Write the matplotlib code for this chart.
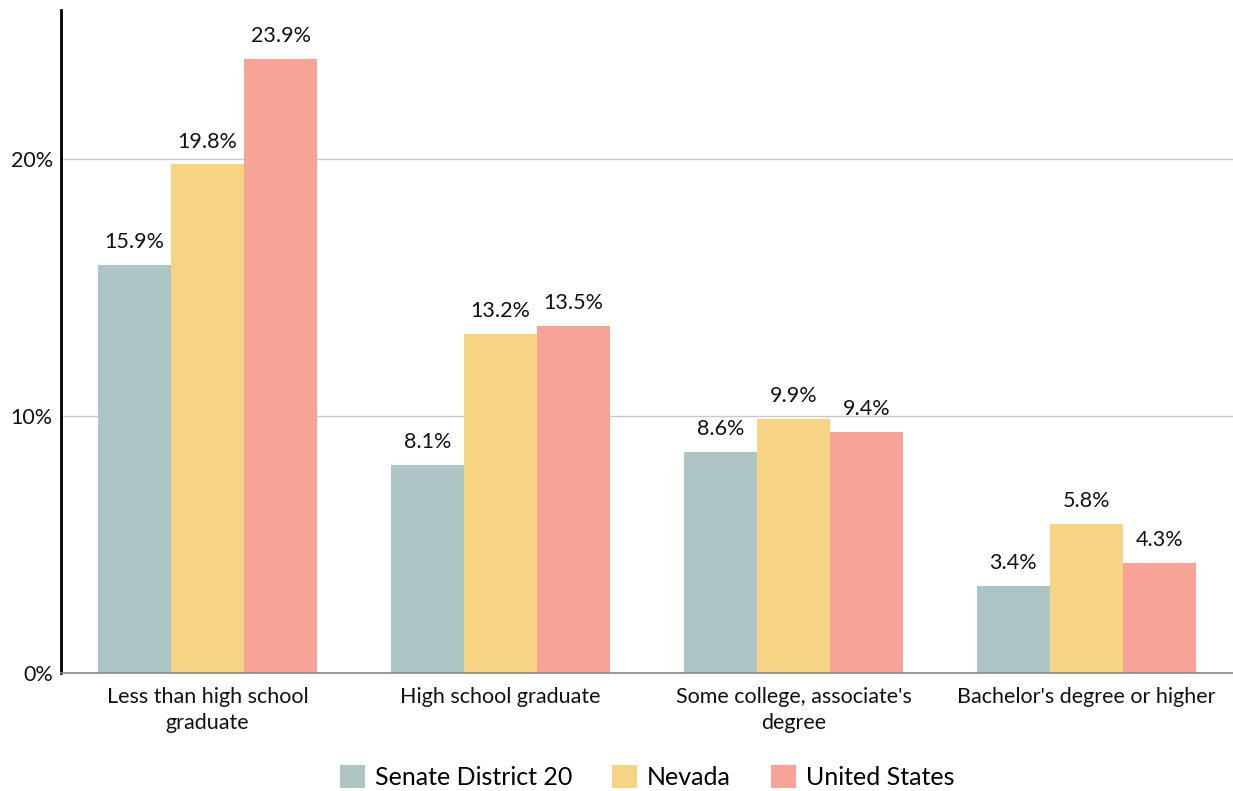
import numpy as np
import matplotlib.pyplot as plt
from matplotlib.ticker import FuncFormatter

categories = ["Less than high school\ngraduate", "High school graduate",
              "Some college, associate's\ndegree", "Bachelor's degree or higher"]
series_names = ["Senate District 20", "Nevada", "United States"]
district_20 = [15.9, 8.1, 8.6, 3.4]
nevada = [19.8, 13.2, 9.9, 5.8]
united_states = [23.9, 13.5, 9.4, 4.3]
colors = ["#AEC5C6", "#F7D384", "#F7A397"]

plt.rcParams["font.family"] = ["Lato", "DejaVu Sans"]

fig = plt.figure(figsize=(12.33, 7.91), dpi=100)
ax = fig.add_axes([0.0495, 0.149, 0.9505, 0.838])

x = np.arange(len(categories))
w = 0.25
for k, (name, vals) in enumerate(zip(series_names, [district_20, nevada, united_states])):
    pos = x + (k - 1) * w
    ax.bar(pos, vals, width=w, color=colors[k], label=name, zorder=2)
    for px, v in zip(pos, vals):
        ax.text(px, v + 0.5, f"{v:.1f}%", ha="center", va="bottom", fontsize=15.5, color="#111111")

ax.set_xlim(-0.5, 3.5)
ax.set_ylim(0, 25.8)
ax.set_yticks([0, 10, 20])
ax.yaxis.set_major_formatter(FuncFormatter(lambda v, _: f"{v:.0f}%"))
ax.set_xticks(x)
ax.set_xticklabels(categories, linespacing=1.4)
ax.tick_params(axis="both", length=0, labelsize=15.5, colors="#111111")
ax.tick_params(axis="x", pad=10)
ax.tick_params(axis="y", pad=6)
ax.grid(axis="y", color="#C8C8C8", linewidth=1, zorder=0)
for s in ["top", "right"]:
    ax.spines[s].set_visible(False)
ax.spines["left"].set_color("black")
ax.spines["left"].set_linewidth(2)
ax.spines["bottom"].set_color("#888888")
ax.spines["bottom"].set_linewidth(1.2)

ax.legend(loc="center", bbox_to_anchor=(0.5, -0.157), ncol=3, frameon=False,
          fontsize=18, handlelength=1.0, handleheight=1.0, columnspacing=1.6, handletextpad=0.4)

fig.savefig("out.png", dpi=100)
